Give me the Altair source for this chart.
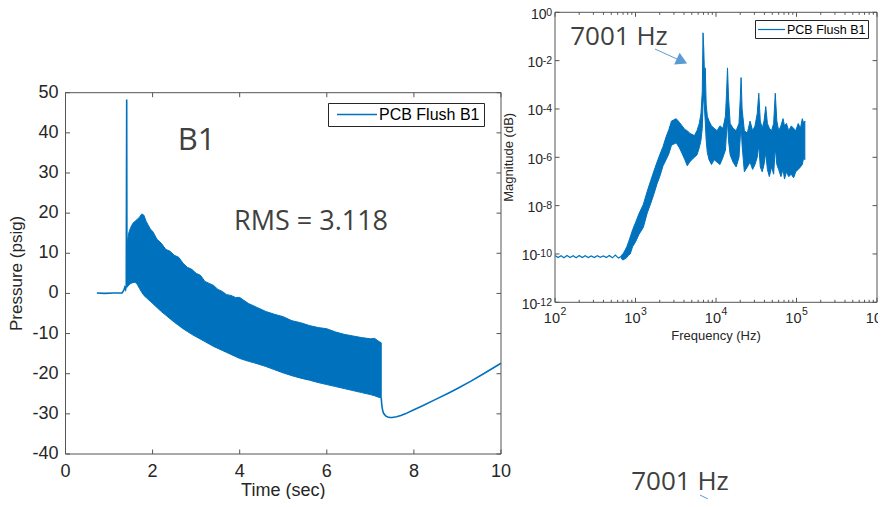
import altair as alt
import pandas as pd

BLUE = "#0072BD"
ARROW = "#5B9BD5"
INK = "#262626"
FRAME = "#555555"
NOTE = "#404040"
AX_FONT = "Liberation Sans"
NOTE_FONT = "Open Sans"
SERIES = "PCB Flush B1"

# ---------------- left panel: pressure record ----------------
pre_t = [0.72, 0.9, 1.1, 1.3, 1.34, 1.36, 1.38, 1.395, 1.405, 1.41]
pre_p = [0.1, 0.0, 0.1, 0.1, 0.8, 1.5, 1.0, 2.0, 48.3, 10.0]

band_t = [1.41, 1.45, 1.5, 1.55, 1.6, 1.65, 1.7, 1.75, 1.8, 1.85,
          1.9, 1.95, 2.0, 2.1, 2.2, 2.3, 2.4, 2.5, 2.6, 2.7,
          2.8, 2.9, 3.0, 3.1, 3.2, 3.3, 3.4, 3.5, 3.6, 3.7,
          3.8, 3.9, 4.0, 4.2, 4.4, 4.6, 4.8, 5.0, 5.2, 5.4,
          5.6, 5.8, 6.0, 6.2, 6.4, 6.6, 6.8, 7.0, 7.1, 7.2, 7.25]
band_hi = [12, 15, 16.5, 17.5, 18, 18.5, 19, 19.8, 19.5, 18,
           17, 16, 15.5, 13.5, 12.5, 11, 10.5, 9.5, 9, 7.5,
           6.5, 6, 5, 4.5, 3, 2.5, 2, 1, 0.5, -0.3,
           -0.5, -1, -1, -2.5, -3.5, -4.5, -5.2, -5.8, -6.8, -7.3,
           -8, -8.5, -8.8, -9.6, -10.2, -10.6, -11, -11.3, -11.2, -12, -12.3]
band_lo = [1.5, 2.0, 2.5, 2.7, 2.8, 2.2, 1.2, 0.3, -0.5, -1.0,
           -1.5, -2.0, -2.5, -3.5, -4.5, -5.4, -6.3, -7.2, -8.0, -8.8,
           -9.5, -10.2, -10.8, -11.4, -12.0, -12.6, -13.2, -13.7, -14.2, -14.7,
           -15.2, -15.7, -16.2, -16.9, -17.5, -18.2, -19.0, -19.8, -20.5, -21.1,
           -21.6, -22.2, -22.7, -23.2, -23.7, -24.2, -24.7, -25.2, -25.5, -25.9, -26.0]

tail_t = [7.25, 7.26, 7.28, 7.3, 7.35, 7.4, 7.45, 7.5, 7.6, 7.7,
          7.8, 8.0, 8.2, 8.5, 8.8, 9.0, 9.3, 9.6, 10.0]
tail_p = [-26.0, -27.5, -29.0, -29.8, -30.5, -30.8, -30.9, -30.9, -30.7, -30.4,
          -30.0, -29.0, -28.0, -26.4, -24.8, -23.7, -21.9, -20.0, -17.4]

P_XLIM = [0, 10]
P_YLIM = [-40, 50]
P_XTICKS = [0, 2, 4, 6, 8, 10]
P_YTICKS = [-40, -30, -20, -10, 0, 10, 20, 30, 40, 50]

# ---------------- right panel: spectrum (log10 of magnitude) ----------------
ripple_f = [100, 109, 119, 129, 141, 154, 168, 183, 200, 218, 237, 259,
            282, 308, 335, 365, 398, 434, 473, 516, 562, 613, 668]
ripple_e = [-10.06, -10.15, -10.07, -10.16, -10.06, -10.15, -10.07, -10.16,
            -10.06, -10.15, -10.07, -10.15, -10.08, -10.15, -10.07, -10.14,
            -10.08, -10.15, -10.06, -10.16, -10.05, -10.17, -10.1]

spec_f = [668, 700, 740, 780, 820, 860, 920, 1000, 1100, 1250,
          1400, 1550, 1700, 1850, 2000, 2200, 2400, 2600, 2800, 3000,
          3200, 3500, 3800, 4100, 4400, 4700, 5000, 5400, 5800, 6200,
          6500, 6750, 6900, 7050, 7200, 7350, 7550, 7800, 8200, 8800,
          9500, 10300, 11200, 12200, 13100, 13500, 13900, 14300, 15000, 16300,
          17800, 19300, 20000, 20500, 21100, 22500, 24500, 26500, 28500, 30500,
          32500, 34000, 35500, 37500, 39500, 41500, 43500, 46000, 49000, 52000,
          54500, 57000, 60000, 64000, 68000, 71000, 75000, 80000, 86000, 92000,
          98000, 105000, 112000, 118000, 123000, 127000]
spec_hi = [-10.05, -10.0, -9.85, -9.7, -9.5, -9.3, -9.0, -8.7, -8.35, -7.95,
           -7.4, -6.95, -6.55, -6.2, -5.9, -5.55, -5.15, -4.85, -4.5, -4.45,
           -4.4, -4.55, -4.7, -4.85, -4.9, -5.0, -5.05, -5.1, -4.9, -4.6,
           -4.2, -3.3, -0.85, -1.5, -2.6, -2.3, -3.8, -4.3, -4.5, -4.7,
           -4.8, -4.9, -4.7, -4.8, -4.3, -3.4, -2.3, -3.5, -4.6, -4.8,
           -4.9, -4.6, -3.6, -2.7, -4.0, -4.9, -5.0, -4.5, -4.9, -4.7,
           -4.2, -3.35, -4.5, -4.8, -4.5, -3.9, -4.6, -4.8, -4.9, -4.6,
           -3.35, -4.5, -4.9, -4.7, -4.4, -4.7, -4.6, -4.9, -4.7, -4.8,
           -4.9, -4.6, -4.8, -4.4, -4.6, -4.5]
spec_lo = [-10.2, -10.25, -10.2, -10.15, -10.05, -10.0, -9.7, -9.5, -9.2, -8.9,
           -8.3, -7.9, -7.5, -7.1, -6.8, -6.35, -6.1, -5.85, -5.5, -5.45,
           -5.4, -5.6, -5.85, -6.1, -6.35, -6.2, -6.1, -6.0, -5.9, -5.6,
           -5.3, -4.8, -3.8, -3.4, -4.0, -4.5, -5.3, -5.8, -6.1, -6.3,
           -6.1, -6.2, -6.3, -6.0, -5.7, -5.0, -4.5, -5.3, -5.9, -6.2,
           -6.4, -6.0, -5.2, -4.6, -5.5, -6.6, -6.4, -6.2, -6.5, -6.3,
           -6.0, -5.5, -6.4, -6.6, -6.3, -5.8, -6.5, -6.8, -6.4, -6.7,
           -5.6, -6.3, -6.5, -6.8, -6.5, -6.9, -6.6, -6.8, -6.7, -6.85,
           -6.6, -6.5, -6.4, -6.3, -6.0, -6.1]

F_XLIM = [1e2, 1e6]
F_YLIM = [1e-12, 1e0]
F_XDEC = [2, 3, 4, 5, 6]
F_YDEC = [0, -2, -4, -6, -8, -10, -12]
F_MINOR = [2, 3, 4, 5, 6, 7, 8, 9]

# ---------------- layout (pixels inside the canvas) ----------------
W, H = 870, 491
P_XR, P_YR = [57.5, 493], [446, 84.7]
F_XR, F_YR = [547, 869], [294.3, 4.3]

xP = alt.Scale(domain=P_XLIM, range=P_XR, nice=False, zero=False)
yP = alt.Scale(domain=P_YLIM, range=P_YR, nice=False, zero=False)
xF = alt.Scale(type="log", domain=F_XLIM, range=F_XR, nice=False)
yF = alt.Scale(type="log", domain=F_YLIM, range=F_YR, nice=False)
color_scale = alt.Scale(domain=[SERIES], range=[BLUE])


def X(f, s):
    return alt.X(f, type="quantitative", scale=s, axis=None)


def Y(f, s):
    return alt.Y(f, type="quantitative", scale=s, axis=None)


def frame(xlim, ylim, xs, ys):
    df = pd.DataFrame({"x0": [xlim[0]], "x1": [xlim[1]], "y0": [ylim[0]], "y1": [ylim[1]]})
    return alt.Chart(df).mark_rect(fillOpacity=0, stroke=FRAME, strokeWidth=1).encode(
        x=X("x0", xs), x2="x1", y=Y("y0", ys), y2="y1")


def hticks(values, edge, xs, ys, length):
    df = pd.DataFrame({"v": values, "e": [edge] * len(values)})
    return alt.Chart(df).mark_rule(color=FRAME, strokeWidth=1, y2Offset=length).encode(
        x=X("v", xs), y=Y("e", ys), y2="e")


def vticks(values, edge, xs, ys, length):
    df = pd.DataFrame({"v": values, "e": [edge] * len(values)})
    return alt.Chart(df).mark_rule(color=FRAME, strokeWidth=1, x2Offset=length).encode(
        y=Y("v", ys), x=X("e", xs), x2="e")


# ---------- pressure panel ----------
pre_df = pd.DataFrame({
    "t": pre_t + tail_t,
    "p": pre_p + tail_p,
    "seg": ["a"] * len(pre_t) + ["b"] * len(tail_t),
    "series": SERIES,
})
band_df = pd.DataFrame({"t": band_t, "hi": band_hi, "lo": band_lo})

p_band = alt.Chart(band_df).mark_area(color=BLUE, stroke=BLUE, strokeWidth=1, opacity=1).encode(
    x=X("t", xP), y=Y("hi", yP), y2="lo")
p_line = alt.Chart(pre_df).mark_line(strokeWidth=1.6).encode(
    x=X("t", xP), y=Y("p", yP), detail="seg:N",
    color=alt.Color("series:N", scale=color_scale, legend=None))

p_xlab = alt.Chart(pd.DataFrame({"v": P_XTICKS, "e": P_YLIM[0], "s": [str(v) for v in P_XTICKS]})).mark_text(
    font=AX_FONT, fontSize=18, color=INK, baseline="alphabetic", yOffset=23).encode(
    x=X("v", xP), y=Y("e", yP), text="s:N")
p_ylab = alt.Chart(pd.DataFrame({"v": P_YTICKS, "e": P_XLIM[0], "s": [str(v) for v in P_YTICKS]})).mark_text(
    font=AX_FONT, fontSize=18, color=INK, align="right", baseline="middle", xOffset=-7).encode(
    y=Y("v", yP), x=X("e", xP), text="s:N")
p_xtitle = alt.Chart(pd.DataFrame({"v": [sum(P_XLIM) / 2], "e": [P_YLIM[0]], "s": ["Time (sec)"]})).mark_text(
    font=AX_FONT, fontSize=18, color=INK, baseline="alphabetic", yOffset=42).encode(
    x=X("v", xP), y=Y("e", yP), text="s:N")
p_ytitle = alt.Chart(pd.DataFrame({"v": [sum(P_YLIM) / 2], "e": [P_XLIM[0]], "s": ["Pressure (psig)"]})).mark_text(
    font=AX_FONT, fontSize=17, color=INK, angle=270, baseline="middle", xOffset=-48.5).encode(
    y=Y("v", yP), x=X("e", xP), text="s:N")

pressure = alt.layer(
    p_band, p_line,
    frame(P_XLIM, P_YLIM, xP, yP),
    hticks(P_XTICKS, P_YLIM[0], xP, yP, -4.5),
    hticks(P_XTICKS, P_YLIM[1], xP, yP, 4.5),
    vticks(P_YTICKS, P_XLIM[0], xP, yP, 4.5),
    vticks(P_YTICKS, P_XLIM[1], xP, yP, -4.5),
    p_xlab, p_ylab, p_xtitle, p_ytitle,
)

# ---------- spectrum panel ----------
ripple_df = pd.DataFrame({"f": ripple_f, "m": [10.0 ** e for e in ripple_e], "series": SERIES})
spec_df = pd.DataFrame({"f": spec_f, "hi": [10.0 ** e for e in spec_hi], "lo": [10.0 ** e for e in spec_lo]})

f_area = alt.Chart(spec_df).mark_area(color=BLUE, stroke=BLUE, strokeWidth=1, opacity=1).encode(
    x=X("f", xF), y=Y("hi", yF), y2="lo")
f_line = alt.Chart(ripple_df).mark_line(strokeWidth=1.2).encode(
    x=X("f", xF), y=Y("m", yF),
    color=alt.Color("series:N", scale=color_scale, legend=None))

major_x = [10.0 ** d for d in F_XDEC]
major_y = [10.0 ** d for d in F_YDEC]
minor_x = [m * 10.0 ** d for d in F_XDEC[:-1] for m in F_MINOR]

BASE_FS, SUP_FS = 14.5, 10.5

# x tick labels: "10" then a raised exponent
xl_df = pd.DataFrame({"v": major_x, "e": F_YLIM[0], "base": "10", "sup": [str(d) for d in F_XDEC]})
f_xbase = alt.Chart(xl_df).mark_text(
    font=AX_FONT, fontSize=BASE_FS, color=INK, align="right", baseline="alphabetic",
    xOffset=5, yOffset=20.7).encode(x=X("v", xF), y=Y("e", yF), text="base:N")
f_xsup = alt.Chart(xl_df).mark_text(
    font=AX_FONT, fontSize=SUP_FS, color=INK, align="left", baseline="alphabetic",
    xOffset=5.5, yOffset=12.7).encode(x=X("v", xF), y=Y("e", yF), text="sup:N")


def sup_width(s, fs):
    return sum((0.333 if c == "-" else 0.556) for c in s) * fs


# y tick labels: exponent right-aligned at the axis, "10" placed to its left
f_ylabs = []
for d, v in zip(F_YDEC, major_y):
    s = str(d)
    df = pd.DataFrame({"v": [v], "e": [F_XLIM[0]], "base": ["10"], "sup": [s]})
    f_ylabs.append(alt.Chart(df).mark_text(
        font=AX_FONT, fontSize=SUP_FS, color=INK, align="right", baseline="alphabetic",
        xOffset=-3, yOffset=3.4).encode(y=Y("v", yF), x=X("e", xF), text="sup:N"))
    f_ylabs.append(alt.Chart(df).mark_text(
        font=AX_FONT, fontSize=14, color=INK, align="right", baseline="alphabetic",
        xOffset=-3 - sup_width(s, SUP_FS) + 0.5, yOffset=6.4).encode(y=Y("v", yF), x=X("e", xF), text="base:N"))

f_xtitle = alt.Chart(pd.DataFrame({"v": [1e4], "e": [F_YLIM[0]], "s": ["Frequency (Hz)"]})).mark_text(
    font=AX_FONT, fontSize=13, color=INK, baseline="alphabetic", yOffset=38).encode(
    x=X("v", xF), y=Y("e", yF), text="s:N")
f_ytitle = alt.Chart(pd.DataFrame({"v": [1e-6], "e": [F_XLIM[0]], "s": ["Magnitude (dB)"]})).mark_text(
    font=AX_FONT, fontSize=13, color=INK, angle=270, baseline="middle", xOffset=-46).encode(
    y=Y("v", yF), x=X("e", xF), text="s:N")

freq = alt.layer(
    f_area, f_line,
    frame(F_XLIM, F_YLIM, xF, yF),
    hticks(major_x, F_YLIM[0], xF, yF, -4.5),
    hticks(major_x, F_YLIM[1], xF, yF, 4.5),
    hticks(minor_x, F_YLIM[0], xF, yF, -2.5),
    hticks(minor_x, F_YLIM[1], xF, yF, 2.5),
    vticks(major_y, F_XLIM[0], xF, yF, 4.5),
    vticks(major_y, F_XLIM[1], xF, yF, -4.5),
    f_xbase, f_xsup, *f_ylabs, f_xtitle, f_ytitle,
)


# ---------- annotations and legend boxes ----------
def note(text, x, y, size, color=NOTE, font=NOTE_FONT, align="center"):
    return alt.Chart(pd.DataFrame({"s": [text]})).mark_text(
        font=font, fontSize=size, color=color, align=align, baseline="alphabetic").encode(
        text="s:N", x=alt.value(x), y=alt.value(y))


def seg(x1, y1, x2, y2, color, width=1.0):
    return alt.Chart(pd.DataFrame({"a": [0]})).mark_rule(color=color, strokeWidth=width).encode(
        x=alt.value(x1), y=alt.value(y1), x2=alt.value(x2), y2=alt.value(y2))


def box(x1, y1, x2, y2):
    return alt.Chart(pd.DataFrame({"a": [0]})).mark_rect(
        fill="white", stroke="#262626", strokeWidth=1).encode(
        x=alt.value(x1), y=alt.value(y1), x2=alt.value(x2), y2=alt.value(y2))


arrow_head = alt.Chart(pd.DataFrame({"a": [0]})).mark_point(
    shape="triangle-right", filled=True, size=170, angle=25, color=ARROW, opacity=1).encode(
    x=alt.value(674), y=alt.value(53))

notes = alt.layer(
    # legend of the pressure panel
    box(320.5, 95.5, 476.5, 118.5),
    seg(329, 106.5, 369, 106.5, BLUE, 1.5),
    note(SERIES, 371, 112, 16, "#000000", AX_FONT, "left"),
    # legend of the spectrum panel
    box(747.5, 12.5, 860.5, 30.5),
    seg(750, 21.5, 777, 21.5, BLUE, 1.2),
    note(SERIES, 779, 26, 12.5, "#000000", AX_FONT, "left"),
    # texts
    note("B1", 188.5, 142, 31),
    note("RMS = 3.118", 303, 222, 27),
    note("7001 Hz", 611, 37, 26),
    note("7001 Hz", 672, 482, 26),
    seg(647, 41, 669, 51, ARROW),
    arrow_head,
    seg(692, 487, 700, 491, ARROW),
)

chart = alt.layer(pressure, freq, notes).resolve_scale(
    x="independent", y="independent", color="independent"
).properties(
    width=W, height=H, autosize=alt.AutoSizeParams(type="none"), padding=0
).configure_view(stroke=None)

chart.save("out.html", embed_options={"renderer": "svg", "actions": False})
